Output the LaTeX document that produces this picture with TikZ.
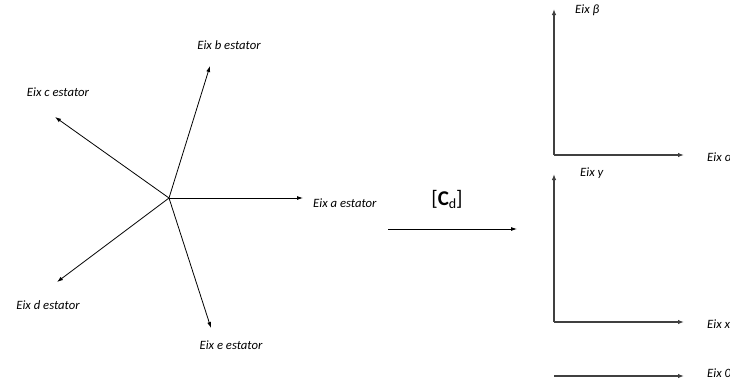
\documentclass[tikz,border=0pt]{standalone}
\usepackage{fontspec}
\setmainfont{Carlito}
\usetikzlibrary{arrows.meta}
\begin{document}
\begin{tikzpicture}[x=1pt,y=-1pt,
  vec/.style={draw=black,line width=0.8pt,-{Latex[length=6pt,width=4pt]}},
  axis/.style={draw=black!75,line width=1.2pt,-{Latex[length=6pt,width=4.5pt]}},
  lbl/.style={font=\itshape\fontsize{12.7}{14}\selectfont,inner sep=0pt},
  lblw/.style={lbl,anchor=west}]
\useasboundingbox (0,0) rectangle (730,383);
% stator star
\coordinate (O) at (169,198);
\coordinate (a) at (303,198);
\coordinate (b) at (210,66);
\coordinate (c) at (55,117);
\coordinate (d) at (57,282);
\coordinate (e) at (211,328);
\draw[vec] (O) -- (a);
\draw[vec] (O) -- (b);
\draw[vec] (O) -- (c);
\draw[vec] (O) -- (d);
\draw[vec] (O) -- (e);
\node[lblw] (la) at (313,203) {Eix a estator};
\node[lbl] (lb) at (229,45) {Eix b estator};
\node[lbl] (lc) at (58,92) {Eix c estator};
\node[lbl] (ld) at (48,305) {Eix d estator};
\node[lbl] (le) at (231,345) {Eix e estator};
% transformation arrow
\coordinate (t1) at (388,229);
\coordinate (t2) at (517,229);
\draw[vec] (t1) -- (t2);
\node[font=\fontsize{21}{24}\selectfont,inner sep=0pt] (C) at (447,199) {[\textbf{C}\raisebox{-3pt}{\fontsize{14}{14}\selectfont d}]};
% alpha-beta
\coordinate (O1) at (554,155);
\coordinate (yb) at (554,9);
\coordinate (xa) at (684,155);
\draw[axis] (O1) -- (yb);
\draw[axis] (O1) -- (xa);
\node[lblw] (lbeta) at (575,10) {Eix β};
\node[lblw] (lalpha) at (707,157) {Eix α};
% x-y
\coordinate (O2) at (554,322);
\coordinate (yy) at (554,174);
\coordinate (xx) at (684,322);
\draw[axis] (O2) -- (yy);
\draw[axis] (O2) -- (xx);
\node[lblw] (ly) at (580,173) {Eix y};
\node[lblw] (lx) at (707,324) {Eix x};
% zero
\coordinate (z1) at (554,376);
\coordinate (z2) at (684,376);
\draw[axis] (z1) -- (z2);
\node[lblw] (l0) at (707,373) {Eix 0};
\end{tikzpicture}
\end{document}
